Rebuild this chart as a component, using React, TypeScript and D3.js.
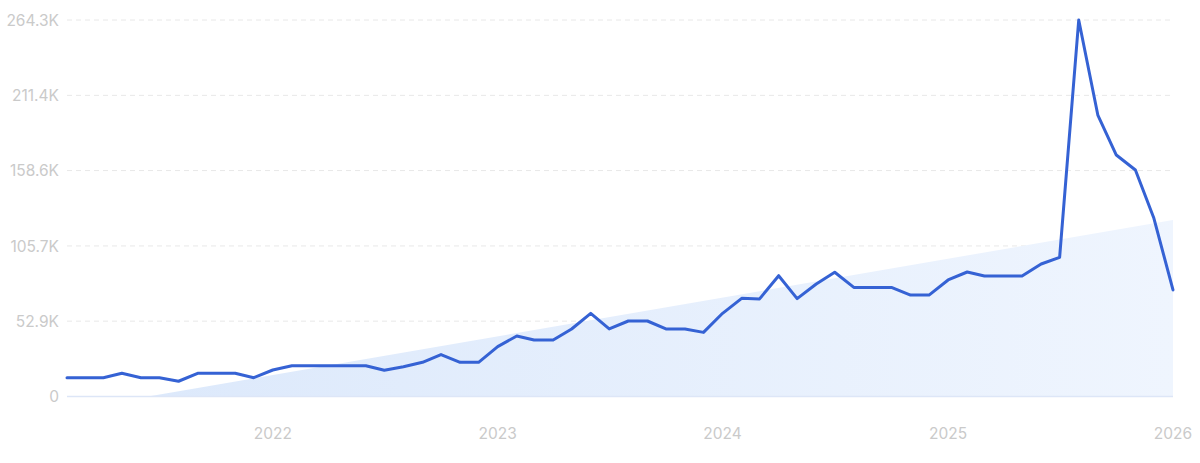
import React from "react";
import * as d3 from "d3";

const startMonth = new Date(2021, 1, 1);
const monthlyValues = [
  13.2, 13.2, 13.2, 16.3, 13.2, 13.2, 10.7, 16.3, 16.3, 16.3, 13.2, 18.6,
  21.6, 21.6, 21.6, 21.6, 21.6, 18.4, 20.9, 24.0, 29.4, 24.0, 24.0, 35.0,
  42.5, 39.7, 39.7, 47.4, 58.4, 47.4, 53.0, 53.0, 47.4, 47.4, 45.0, 58.4,
  68.9, 68.5, 84.8, 68.7, 79.0, 87.2, 76.6, 76.6, 76.6, 71.2, 71.2, 81.8,
  87.4, 84.6, 84.6, 84.6, 93.0, 97.7, 264.3, 197.6, 169.5, 159.0, 125.1, 74.8,
];
const trendStartEnd = [-9.8, 123.9];
const yTickValues = [0, 52.9, 105.7, 158.6, 211.4, 264.3];
const yTickLabels = ["0", "52.9K", "105.7K", "158.6K", "211.4K", "264.3K"];
const xTickYears = [2022, 2023, 2024, 2025, 2026];

const data = monthlyValues.map((v, i) => ({
  date: new Date(startMonth.getFullYear(), startMonth.getMonth() + i, 1),
  value: v,
}));

export default function App() {
  const width = 1200;
  const height = 463;
  const left = 67;
  const right = 1173;
  const top = 20;
  const bottom = 396.5;

  const x = d3
    .scaleTime()
    .domain([data[0].date, data[data.length - 1].date])
    .range([left, right]);
  const y = d3.scaleLinear().domain([0, 264.3]).range([bottom, top]);

  const line = d3
    .line<{ date: Date; value: number }>()
    .x((d) => x(d.date))
    .y((d) => y(d.value));

  const trendData = [
    { date: data[0].date, value: trendStartEnd[0] },
    { date: data[data.length - 1].date, value: trendStartEnd[1] },
  ];
  const area = d3
    .area<{ date: Date; value: number }>()
    .x((d) => x(d.date))
    .y0(y(0))
    .y1((d) => y(d.value));

  const font = "Inter, 'Open Sans', sans-serif";

  return (
    <svg
      width={width}
      height={height}
      style={{ position: "absolute", left: 0, top: 0, background: "#fff" }}
    >
      <defs>
        <linearGradient id="trendFill" x1="0" x2="1" y1="0" y2="0">
          <stop offset="0%" stopColor="#dbe8fb" />
          <stop offset="100%" stopColor="#eff5fe" />
        </linearGradient>
        <clipPath id="aboveZero">
          <rect x={left} y={0} width={right - left} height={y(0)} />
        </clipPath>
      </defs>
      {yTickValues.map((v, i) =>
        i === 0 ? null : (
          <line
            key={"g" + i}
            x1={left}
            x2={right}
            y1={y(v)}
            y2={y(v)}
            stroke="#e8e8e8"
            strokeWidth={1}
            strokeDasharray="5 4"
          />
        )
      )}
      <path
        d={area(trendData) || ""}
        fill="url(#trendFill)"
        clipPath="url(#aboveZero)"
      />
      <line
        x1={left}
        x2={right}
        y1={y(0)}
        y2={y(0)}
        stroke="#dde6f7"
        strokeWidth={1.5}
      />
      {yTickValues.map((v, i) => (
        <text
          key={"t" + i}
          x={59}
          y={y(v)}
          dy="0.36em"
          textAnchor="end"
          fontFamily={font}
          fontSize={15.5}
          fill="#cacaca"
        >
          {yTickLabels[i]}
        </text>
      ))}
      {xTickYears.map((yr) => (
        <text
          key={"x" + yr}
          x={x(new Date(yr, 0, 1))}
          y={433}
          dy="0.36em"
          textAnchor="middle"
          fontFamily={font}
          fontSize={15.5}
          fill="#cacaca"
        >
          {yr}
        </text>
      ))}
      <path
        d={line(data) || ""}
        fill="none"
        stroke="#3562d4"
        strokeWidth={3}
        strokeLinejoin="round"
        strokeLinecap="round"
      />
    </svg>
  );
}
